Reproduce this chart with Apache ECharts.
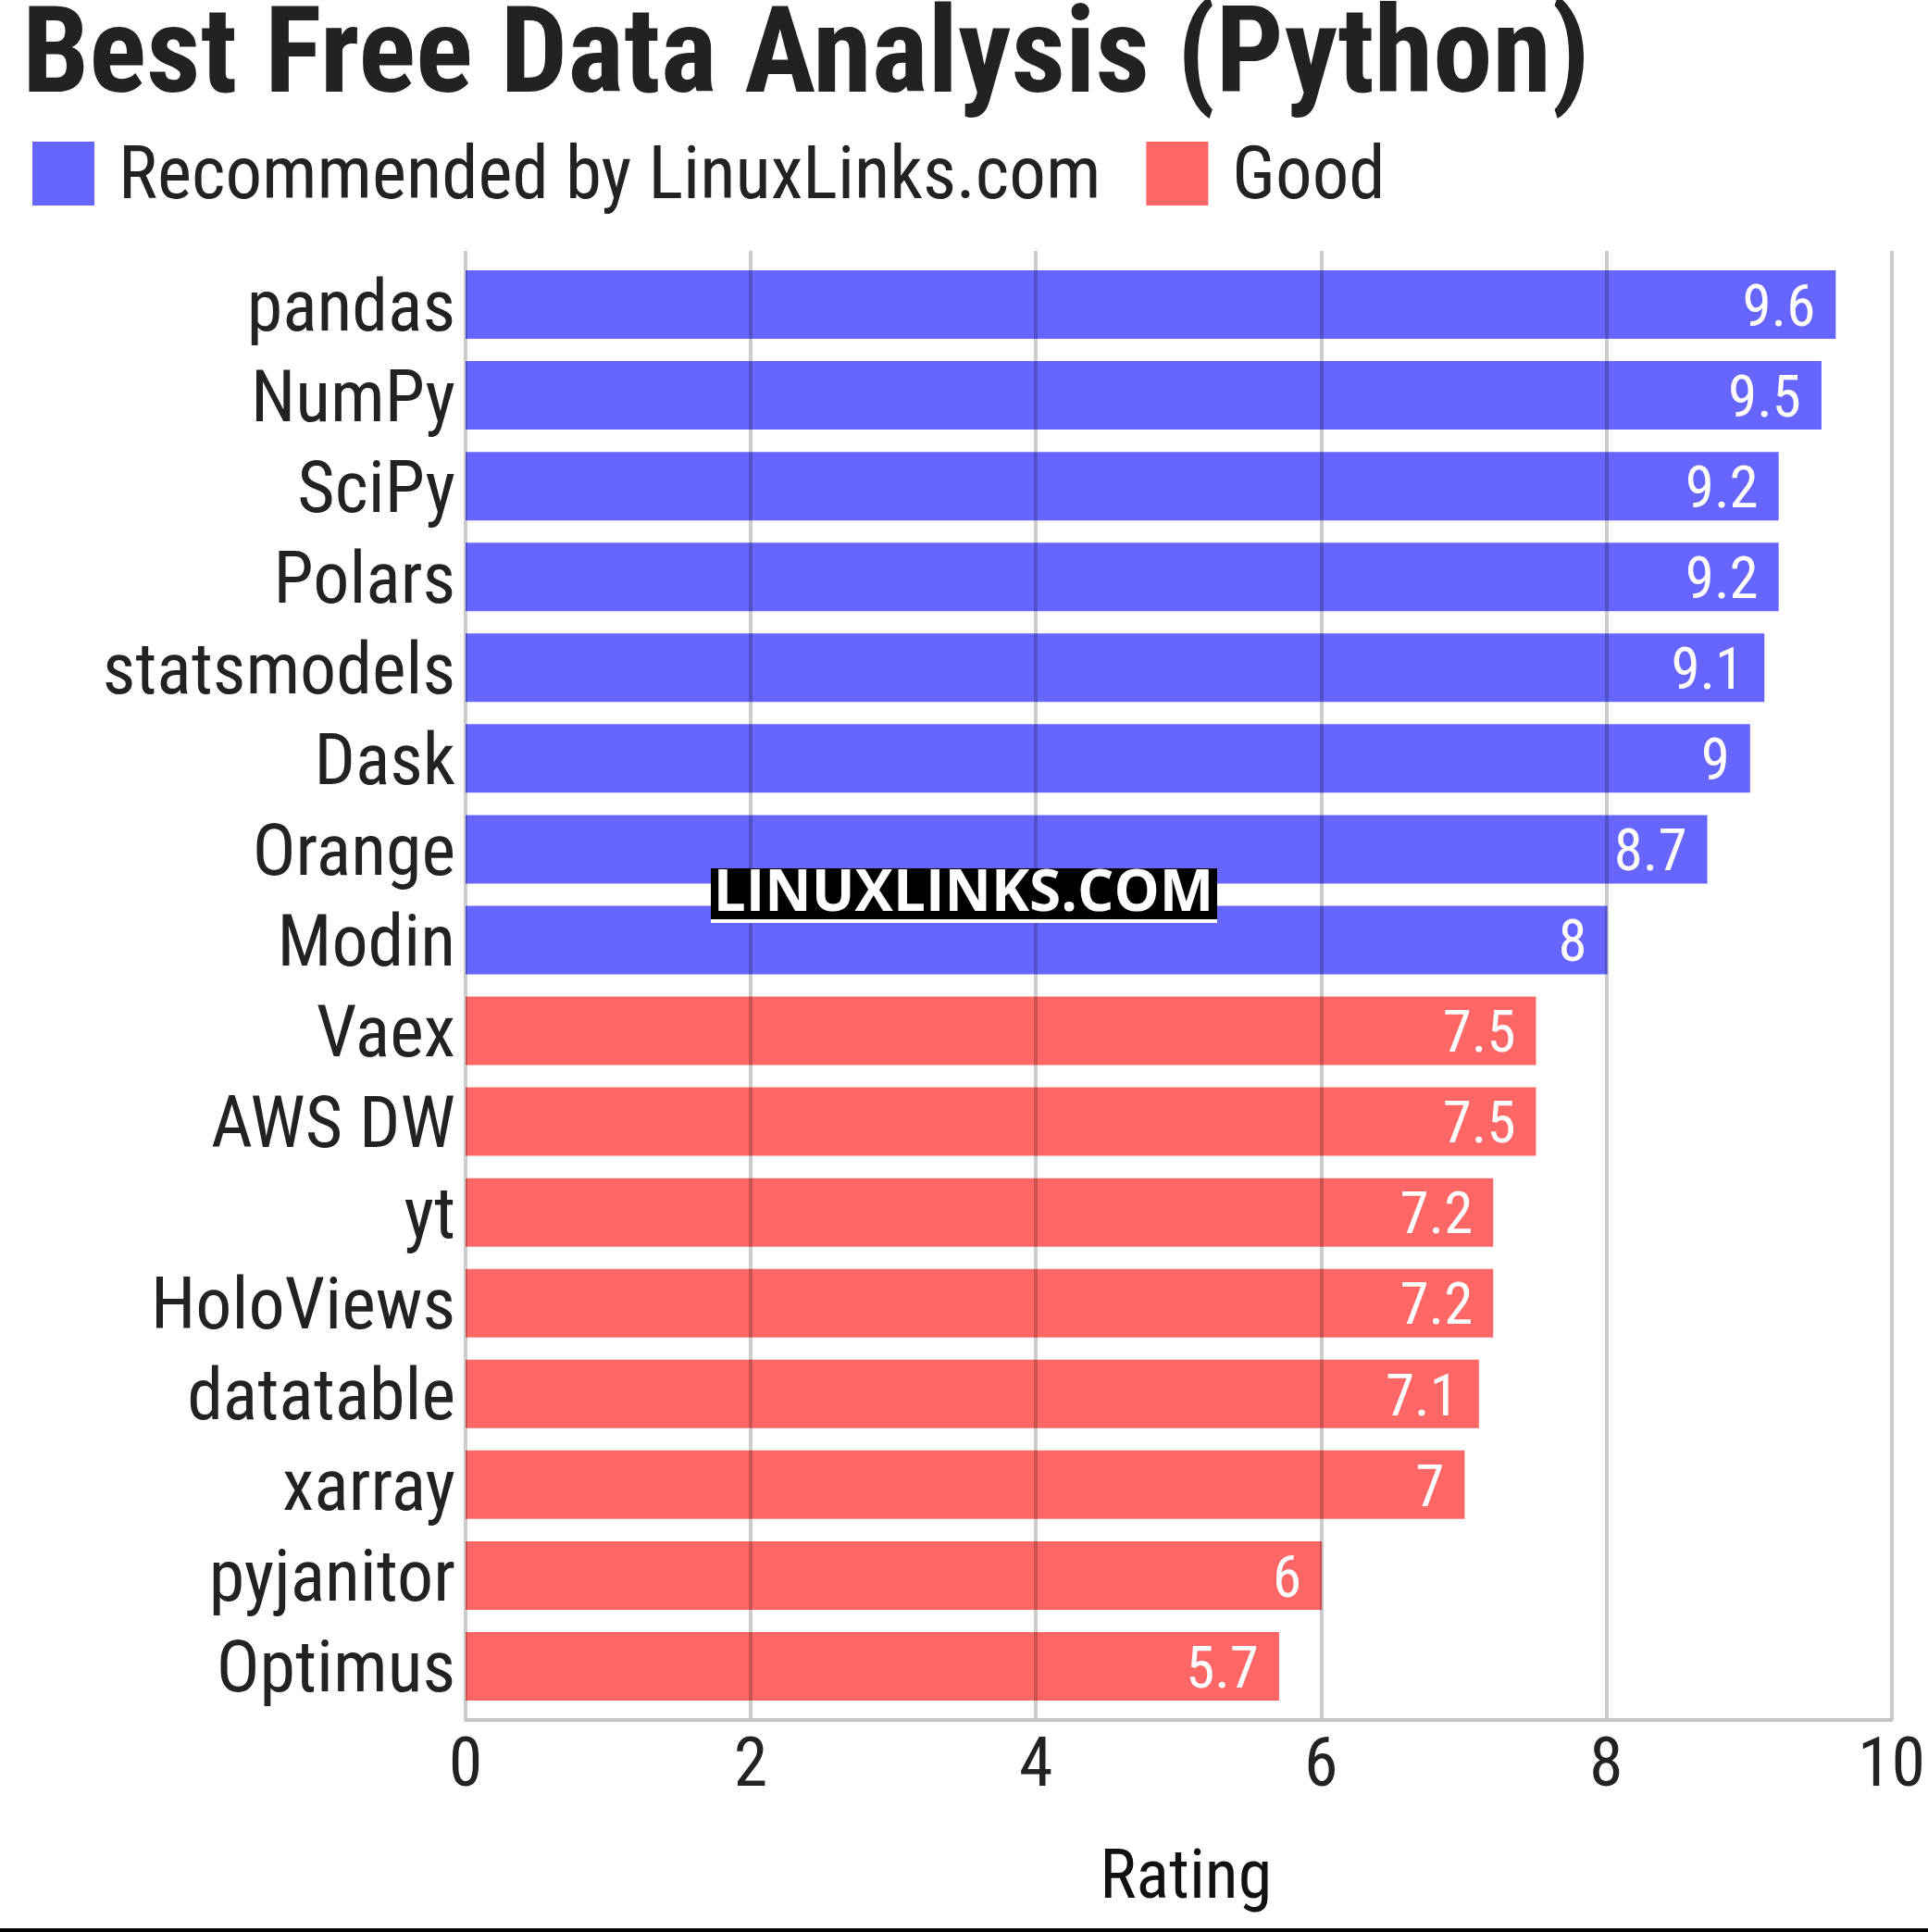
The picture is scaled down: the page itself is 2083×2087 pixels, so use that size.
<!DOCTYPE html>
<html>
<head>
<meta charset="utf-8">
<title>Best Free Data Analysis (Python)</title>
<script src="https://cdn.jsdelivr.net/npm/echarts@6/dist/echarts.min.js"></script>
<style>
    body {margin: 0; background: #fff;}
    #chart {width: 2083px; height: 2087px;}
</style>
</head>
<body>
<div id="chart"></div>
<script>
// data
var categories = ['pandas', 'NumPy', 'SciPy', 'Polars', 'statsmodels', 'Dask', 'Orange', 'Modin',
    'Vaex', 'AWS DW', 'yt', 'HoloViews', 'datatable', 'xarray', 'pyjanitor', 'Optimus'];
var recommended = [9.6, 9.5, 9.2, 9.2, 9.1, 9, 8.7, 8, null, null, null, null, null, null, null, null];
var good = [null, null, null, null, null, null, null, null, 7.5, 7.5, 7.2, 7.2, 7.1, 7, 6, 5.7];
var seriesNames = ['Recommended by LinuxLinks.com', 'Good'];
var xTicks = [0, 10, 2]; // min, max, interval

var font = "'Roboto Condensed', Roboto, sans-serif";
var dom = document.getElementById('chart');
var myChart = echarts.init(dom);

function barSeries(name, values, color) {
    return {
        name: name,
        type: 'bar',
        stack: 'rating',
        xAxisIndex: 0,
        yAxisIndex: 0,
        barWidth: 74,
        data: values,
        itemStyle: {color: color},
        label: {
            show: true,
            position: 'insideRight',
            distance: 22,
            offset: [0, 7],
            color: '#fff',
            fontFamily: font,
            fontWeight: 'normal',
            fontSize: 63
        }
    };
}

var option = {
    backgroundColor: '#fff',
    animation: false,
    title: {
        text: 'Best Free Data Analysis (Python)',
        left: 24,
        top: 2,
        padding: 0,
        textStyle: {fontFamily: font, fontWeight: 'bold', fontSize: 129, color: '#222'}
    },
    legend: {
        left: 35,
        top: 153,
        padding: 0,
        itemWidth: 67,
        itemHeight: 69,
        itemGap: 49,
        icon: 'rect',
        data: seriesNames,
        formatter: function (name) {
            return '{t|' + name + '}';
        },
        textStyle: {
            padding: [0, 0, 0, 21],
            rich: {
                t: {fontFamily: font, fontSize: 79, color: '#222', padding: [14, 0, 0, 0]}
            }
        }
    },
    grid: [
        {left: 503, right: 38, top: 280, height: 1569},   // bars
        {left: 503, right: 38, top: 271, height: 1587}    // axis + grid lines over bars
    ],
    xAxis: [{
        gridIndex: 0,
        type: 'value',
        min: xTicks[0],
        max: xTicks[1],
        show: false
    }, {
        gridIndex: 1,
        type: 'value',
        min: xTicks[0],
        max: xTicks[1],
        interval: xTicks[2],
        z: 3,
        name: 'Rating',
        nameLocation: 'middle',
        nameGap: 136,
        nameTextStyle: {fontFamily: font, fontSize: 74, color: '#111', padding: [0, 0, 0, 16]},
        axisLine: {show: true, lineStyle: {color: '#c4c4c4', width: 4}},
        axisTick: {show: false},
        axisLabel: {fontFamily: font, fontSize: 74, color: '#222', margin: 15},
        splitLine: {show: true, lineStyle: {color: 'rgba(0,0,0,0.2)', width: 4}}
    }],
    yAxis: [{
        gridIndex: 0,
        type: 'category',
        inverse: true,
        data: categories,
        axisLine: {show: false},
        axisTick: {show: false},
        axisLabel: {interval: 0, fontFamily: font, fontSize: 78, color: '#222', margin: 11,
            verticalAlign: 'top', lineHeight: 16}
    }, {
        gridIndex: 1,
        type: 'value',
        show: false
    }],
    series: [
        barSeries(seriesNames[0], recommended, '#6666ff'),
        barSeries(seriesNames[1], good, '#ff6666')
    ],
    graphic: [
        // watermark
        {type: 'rect', z: 100, shape: {x: 768, y: 938, width: 547, height: 55}, style: {fill: '#000'}},
        {type: 'rect', z: 100, shape: {x: 768, y: 993, width: 547, height: 4}, style: {fill: '#fff'}},
        {type: 'text', z: 101, x: 1041, y: 966,
            style: {text: 'LINUXLINKS.COM', fill: '#fff', font: "bold 62px 'Open Sans', 'Noto Sans', sans-serif",
                textAlign: 'center', textVerticalAlign: 'middle'}},
        // bottom rule
        {type: 'rect', z: 100, shape: {x: 0, y: 2083, width: 2083, height: 4}, style: {fill: '#000'}}
    ]
};
myChart.setOption(option, true);
</script>
</body>
</html>
